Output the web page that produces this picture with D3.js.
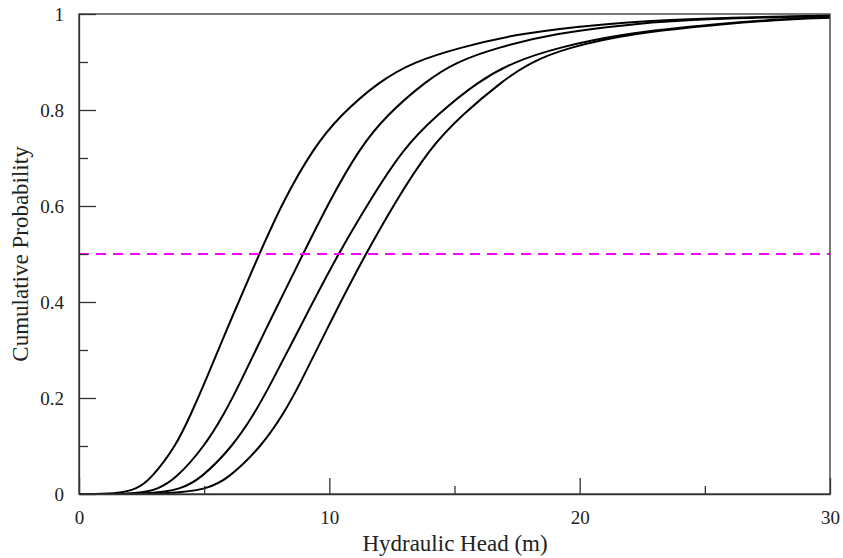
<!DOCTYPE html>
<html>
<head>
<meta charset="utf-8">
<script src="https://cdn.jsdelivr.net/npm/d3@7"></script>
<style>
  html, body { margin: 0; padding: 0; background: #fff; }
  svg { display: block; }
  text { font-family: "Liberation Serif", "Times New Roman", serif; fill: #222; }
</style>
</head>
<body>
<svg id="chart" width="843" height="558"></svg>
<script>
// ---- data ----
const xTickLabels = [0, 10, 20, 30];
const xMinorTicks = [5, 15, 25];
const yTickLabels = [0, 0.2, 0.4, 0.6, 0.8, 1];
const yMinorTicks = [0.1, 0.3, 0.5, 0.7, 0.9];
const referenceProb = 0.5;

// cumulative probability levels (shared) and the hydraulic head (m) of each curve at those levels
const probLevels = [0, 0, 0.01, 0.03, 0.10, 0.17, 0.22, 0.37, 0.50, 0.61, 0.72, 0.79, 0.86, 0.90, 0.93, 0.96, 0.98, 0.99];
const headA = [0, 1.5, 2.30, 2.85, 3.88, 4.50, 4.93, 6.12, 7.20, 8.15, 9.35, 10.45, 12.00, 13.35, 15.20, 17.60, 21.00, 24.2];
const headB = [0, 2.4, 3.14, 3.84, 5.03, 5.83, 6.33, 7.71, 8.95, 10.00, 11.20, 12.30, 13.85, 15.05, 16.70, 19.00, 22.20, 25.0];
const headC = [0, 3.0, 4.04, 4.83, 6.16, 7.03, 7.57, 9.05, 10.35, 11.60, 12.95, 14.30, 15.95, 17.35, 19.10, 21.80, 25.50, 28.3];
const headD = [0, 3.8, 5.07, 5.93, 7.31, 8.20, 8.74, 10.15, 11.45, 12.65, 14.00, 15.30, 16.90, 18.05, 19.50, 22.10, 25.80, 28.6];
const endHead = 30;
const endProb = [0.997, 0.996, 0.993, 0.992];

const seriesHeads = [headA, headB, headC, headD];

// ---- layout ----
const svg = d3.select("#chart");
const margin = { left: 79, right: 13, top: 14, bottom: 64 };
const W = 843, H = 558;
const x = d3.scaleLinear().domain([0, 30]).range([margin.left, W - margin.right]);
const y = d3.scaleLinear().domain([0, 1]).range([H - margin.bottom, margin.top]);

const axisColor = "#333";

// curves
const line = d3.line()
  .x(d => x(d[0]))
  .y(d => y(d[1]))
  .curve(d3.curveBasis);

seriesHeads.forEach((heads, i) => {
  const pts = heads.map((h, j) => [h, probLevels[j]]);
  pts.push([endHead, endProb[i]]);
  svg.append("path")
    .attr("d", line(pts))
    .attr("fill", "none")
    .attr("stroke", "#000")
    .attr("stroke-width", 2);
});

// reference dashed line at 0.5
svg.append("line")
  .attr("x1", x(0)).attr("x2", x(30))
  .attr("y1", y(referenceProb)).attr("y2", y(referenceProb))
  .attr("stroke", "#ff00ff")
  .attr("stroke-width", 2)
  .attr("stroke-dasharray", "10,7");

// frame
svg.append("rect")
  .attr("x", x(0)).attr("y", y(1))
  .attr("width", x(30) - x(0)).attr("height", y(0) - y(1))
  .attr("fill", "none").attr("stroke", axisColor).attr("stroke-width", 1.3);

// x axis (inward ticks)
const xAxis = d3.axisBottom(x).tickValues(xTickLabels).tickSizeInner(-16).tickSizeOuter(0).tickPadding(17).tickFormat(d3.format("d"));
const gx = svg.append("g").attr("transform", `translate(0,${y(0)})`).call(xAxis);
gx.select(".domain").attr("stroke", axisColor).attr("stroke-width", 1.3);
gx.selectAll(".tick line").attr("stroke", axisColor).attr("stroke-width", 1.3);
gx.selectAll(".tick text").attr("font-size", 19).attr("font-family", "Liberation Serif").attr("fill", "#222");
const gxm = svg.append("g").attr("transform", `translate(0,${y(0)})`)
  .call(d3.axisBottom(x).tickValues(xMinorTicks).tickSizeInner(-8).tickSizeOuter(0).tickFormat(""));
gxm.select(".domain").remove();
gxm.selectAll(".tick line").attr("stroke", axisColor).attr("stroke-width", 1.3);

// y axis (inward ticks)
const yAxis = d3.axisLeft(y).tickValues(yTickLabels).tickSizeInner(-17).tickSizeOuter(0).tickPadding(15)
  .tickFormat(d => d === 0 || d === 1 ? d3.format("d")(d) : d3.format(".1f")(d));
const gy = svg.append("g").attr("transform", `translate(${x(0)},0)`).call(yAxis);
gy.select(".domain").attr("stroke", axisColor).attr("stroke-width", 1.3);
gy.selectAll(".tick line").attr("stroke", axisColor).attr("stroke-width", 1.3);
gy.selectAll(".tick text").attr("font-size", 19).attr("font-family", "Liberation Serif").attr("fill", "#222");
const gym = svg.append("g").attr("transform", `translate(${x(0)},0)`)
  .call(d3.axisLeft(y).tickValues(yMinorTicks).tickSizeInner(-9).tickSizeOuter(0).tickFormat(""));
gym.select(".domain").remove();
gym.selectAll(".tick line").attr("stroke", axisColor).attr("stroke-width", 1.3);

// axis titles
svg.append("text")
  .attr("x", 455).attr("y", 551)
  .attr("text-anchor", "middle")
  .attr("font-size", 23)
  .text("Hydraulic Head (m)");

svg.append("text")
  .attr("transform", `translate(28,${(y(0) + y(1)) / 2}) rotate(-90)`)
  .attr("text-anchor", "middle")
  .attr("font-size", 23)
  .text("Cumulative Probability");
</script>
</body>
</html>
